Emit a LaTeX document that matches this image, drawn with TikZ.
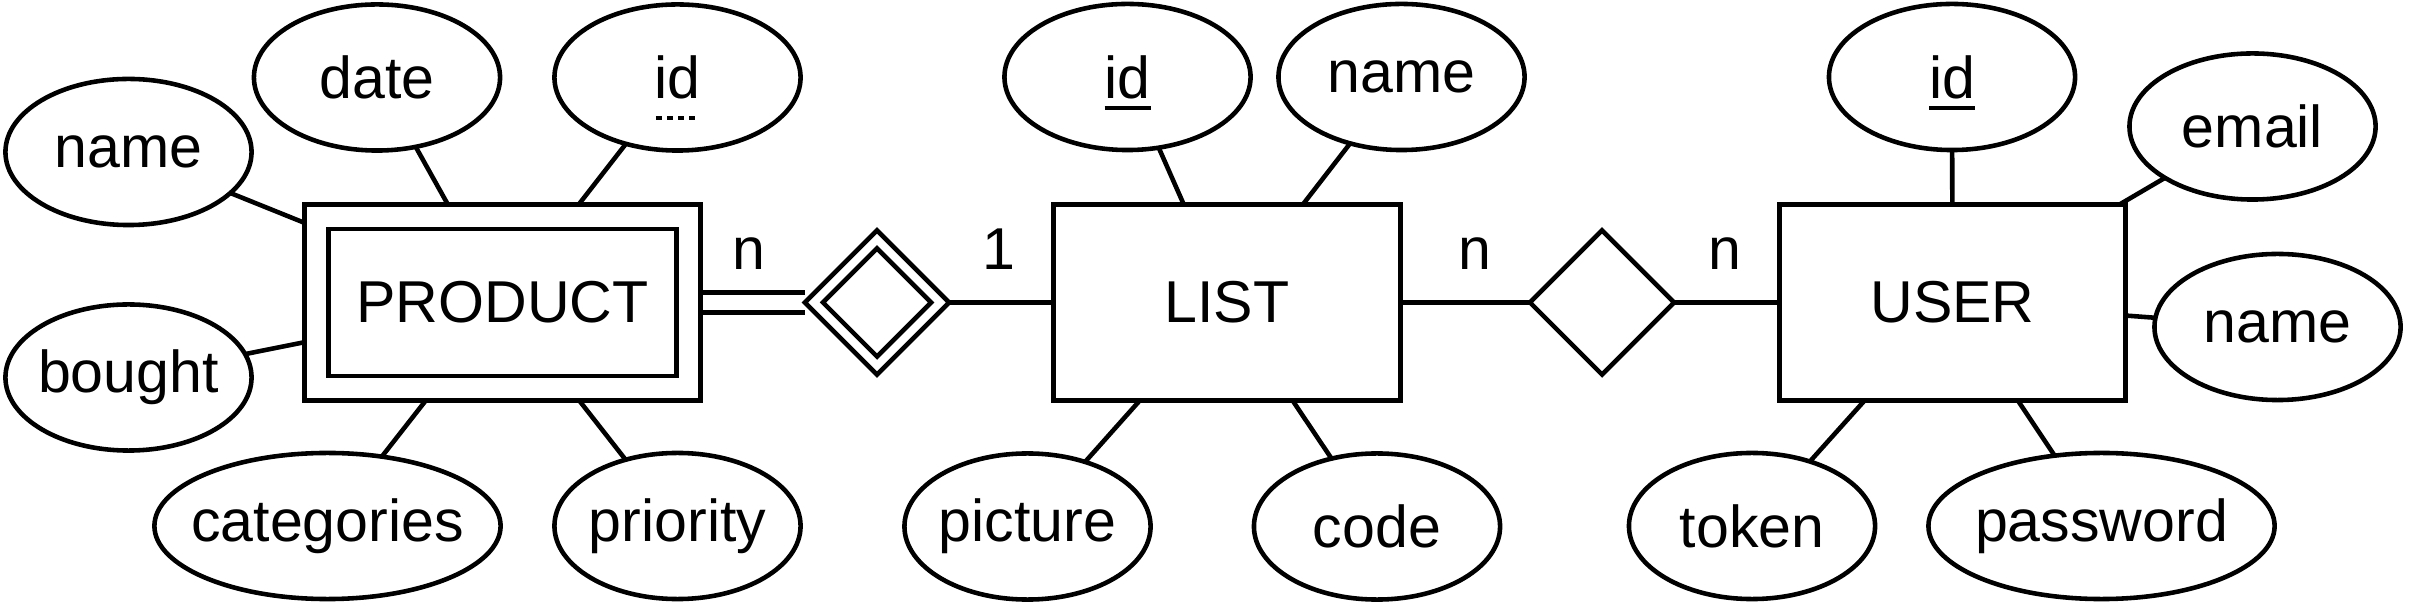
\documentclass[tikz,border=0pt]{standalone}
\usepackage{fontspec}
\setmainfont{Liberation Sans}
\usetikzlibrary{shapes.geometric}
\newsavebox\ulbox
\newcommand\ulsolid[1]{\sbox\ulbox{#1}\rlap{\smash{\rule[-3.4pt]{\wd\ulbox}{1.1pt}}}\usebox\ulbox}
\newcommand\uldashed[1]{\sbox\ulbox{#1}\rlap{\smash{\hbox to \wd\ulbox{\xleaders\hbox{\rule[-6.1pt]{1.7pt}{1.1pt}\hskip1.1pt}\hfill}}}\usebox\ulbox}
\begin{document}
\begin{tikzpicture}[x=0.01cm,y=-0.01cm,
  every node/.style={font=\fontsize{16.8pt}{20pt}\selectfont, inner sep=0pt, outer sep=0pt},
  attr/.style={draw, ellipse, line width=1.3pt, inner xsep=-1cm, inner ysep=-0.5cm, minimum width=2.46cm, minimum height=1.46cm},
  wideattr/.style={attr, minimum width=3.46cm},
  entity/.style={draw, rectangle, line width=1.3pt, minimum width=3.47cm, minimum height=1.96cm},
  rel/.style={draw, diamond, aspect=1, line width=1.3pt, minimum width=1.44cm, minimum height=1.44cm},
  conn/.style={line width=1.3pt},
  card/.style={anchor=base}]
\useasboundingbox (0,0) rectangle (2410,610);

% PRODUCT (weak entity)
\node[entity, minimum width=3.96cm] (product) at (502.5,302.5) {};
\node[draw, line width=1.3pt, minimum width=3.48cm, minimum height=1.47cm] (productin) at (product.center) {PRODUCT};
\node[attr] (p-name) at (128.5,152) {name};
\node[attr] (p-date) at (377,77.5) {date};
\node[attr] (p-id) at (677.5,77.5) {\uldashed{id}};
\node[attr] (p-bought) at (128.5,377.5) {bought};
\node[wideattr] (p-cat) at (327.5,526) {categories};
\node[attr] (p-prio) at (677.5,526) {priority};

% weak relationship
\node[rel] (owns) at (877,302.5) {};
\node[rel, minimum width=1.08cm, minimum height=1.08cm] (ownsin) at (owns.center) {};

% LIST
\node[entity] (list) at (1227,302.5) {LIST};
\node[attr] (l-id) at (1127.5,77) {\ulsolid{id}};
\node[attr] (l-name) at (1401.5,77) {name};
\node[attr] (l-pic) at (1027.5,526.5) {picture};
\node[attr] (l-code) at (1377,526.5) {code};

% relationship
\node[rel] (has) at (1602,302.5) {};

% USER
\node[entity, minimum width=3.46cm] (user) at (1952.5,302.5) {USER};
\node[attr] (u-id) at (1952,77) {\ulsolid{id}};
\node[attr] (u-email) at (2252.5,126.5) {email};
\node[attr] (u-name) at (2277.5,327) {name};
\node[attr] (u-token) at (1752,526) {token};
\node[wideattr] (u-pass) at (2101.5,526) {password};

% connectors
\foreach \a in {p-name,p-date,p-id,p-bought,p-cat,p-prio}
  \draw[conn] (\a) -- (product);
\foreach \a in {l-id,l-name,l-pic,l-code}
  \draw[conn] (\a) -- (list);
\foreach \a in {u-id,u-email,u-name,u-token,u-pass}
  \draw[conn] (\a) -- (user);
\draw[conn] ([yshift=0.1cm]product.east) -- ([yshift=0.1cm]product.east -| owns.west);
\draw[conn] ([yshift=-0.1cm]product.east) -- ([yshift=-0.1cm]product.east -| owns.west);
\draw[conn] (owns) -- (list);
\draw[conn] (list) -- (has);
\draw[conn] (has) -- (user);

% cardinalities
\node[card] (c1) at (749,270) {n};
\node[card] (c2) at (999,270) {1};
\node[card] (c3) at (1475,270) {n};
\node[card] (c4) at (1724.5,270) {n};
\end{tikzpicture}
\end{document}
